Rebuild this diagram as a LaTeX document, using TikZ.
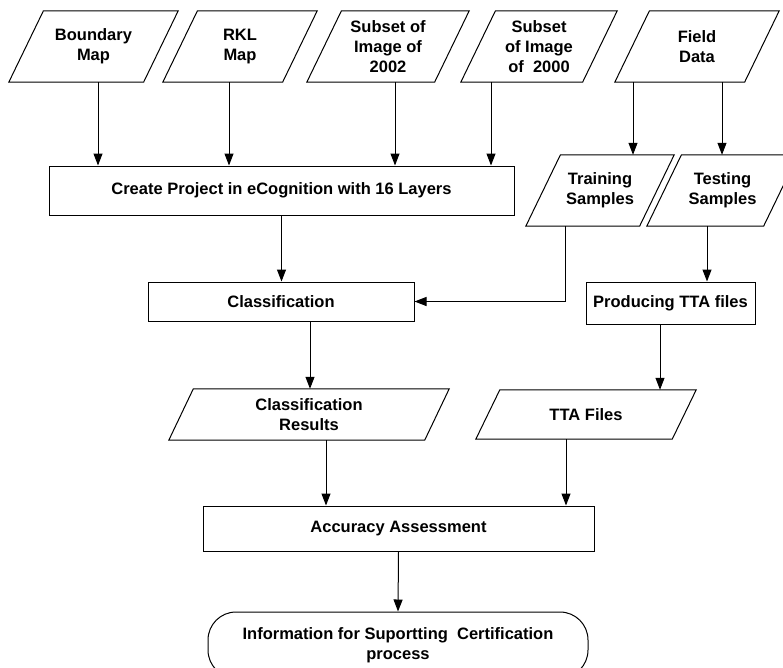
\documentclass[tikz,border=0pt]{standalone}
\usepackage{fontspec}
\setmainfont{Liberation Sans}
\usetikzlibrary{arrows.meta}

\begin{document}
\begin{tikzpicture}
        [x=1pt, y=-1pt,
        every node/.style={font=\fontsize{16.5}{20}\selectfont\bfseries, align=center, inner sep=0pt},
        proc/.style={rectangle, draw, line width=1pt},
        data/.style={rectangle},
        term/.style={rectangle, draw, rounded corners=28pt, line width=1pt},
        arrow/.style={line width=1pt, -{Triangle[length=12pt,width=9pt]}}]

        \useasboundingbox (0,0) rectangle (783,667);
        \clip (0,0) rectangle (783,667);

        % Input data
        \node[data, minimum width=169pt, minimum height=71pt] (bnd) at (93.5,46.5) {Boundary\\Map};
        \node[data, minimum width=154pt, minimum height=71pt] (rkl) at (240,46.5) {RKL\\Map};
        \node[data, minimum width=162pt, minimum height=71pt] (img02) at (388,46.5) {Subset of\\Image of\\2002};
        \node[data, minimum width=156pt, minimum height=71pt] (img00) at (539,46.5) {Subset\\of Image\\of\ \ 2000};
        \node[data, minimum width=164pt, minimum height=71pt] (field) at (697,46.5) {Field\\Data};

        % Processing
        \node[proc, minimum width=465pt, minimum height=49pt] (create) at (281.5,190.5) {Create Project in eCognition with 16 Layers};
        \node[data, minimum width=148pt, minimum height=71pt] (train) at (600,190.5) {Training\\Samples};
        \node[data, minimum width=151pt, minimum height=71pt] (test) at (722.5,190.5) {Testing\\Samples};
        \node[proc, minimum width=266pt, minimum height=39pt] (classif) at (281,301.5) {Classification};
        \node[proc, minimum width=169pt, minimum height=42pt] (tta) at (670.5,303) {Producing TTA files};
        \node[data, minimum width=280pt, minimum height=51pt] (result) at (309,414.5) {Classification\\Results};
        \node[data, minimum width=220pt, minimum height=49pt] (ttafile) at (586,414.5) {TTA Files};
        \node[proc, minimum width=391pt, minimum height=45pt] (acc) at (398.5,528.5) {Accuracy Assessment};
        \node[term, minimum width=380pt, minimum height=66pt] (info) at (398,645) {Information for Suportting\ \ Certification\\process};

        % Parallelogram outlines of the data nodes
        \foreach \n/\s in {bnd/34.6, rkl/34.6, img02/34.6, img00/34.6, field/34.6,
                train/34.6, test/34.6, result/24.5, ttafile/24}
                \draw[line width=1pt] (\n.south west) -- ([xshift=\s pt]\n.north west)
                        -- (\n.north east) -- ([xshift=-\s pt]\n.south east) -- cycle;

        % Connectors
        \draw[arrow] ([xshift=4.5pt]bnd.south) -- ([xshift=4.5pt]bnd.south |- create.north);
        \draw[arrow] ([xshift=-11pt]rkl.south) -- ([xshift=-11pt]rkl.south |- create.north);
        \draw[arrow] ([xshift=7pt]img02.south) -- ([xshift=7pt]img02.south |- create.north);
        \draw[arrow] ([xshift=-48pt]img00.south) -- ([xshift=-48pt]img00.south |- create.north);
        \draw[arrow] ([xshift=-64pt]field.south) -- ([xshift=-64pt]field.south |- train.north);
        \draw[arrow] ([xshift=25pt]field.south) -- ([xshift=25pt]field.south |- test.north);
        \draw[arrow] (create.south) -- (create.south |- classif.north);
        \draw[arrow] ([xshift=-35pt]train.south) |- (classif.east);
        \draw[arrow] ([xshift=-15.5pt]test.south) -- ([xshift=-15.5pt]test.south |- tta.north);
        \draw[arrow] ([xshift=-10.5pt]tta.south) -- ([xshift=-10.5pt]tta.south |- ttafile.north);
        \draw[arrow] ([xshift=29pt]classif.south) -- ([xshift=29pt]classif.south |- result.north);
        \draw[arrow] ([xshift=17pt]result.south) -- ([xshift=17pt]result.south |- acc.north);
        \draw[arrow] ([xshift=-20pt]ttafile.south) -- ([xshift=-20pt]ttafile.south |- acc.north);
        \draw[arrow] (acc.south) -- (info.north);

\end{tikzpicture}
\end{document}
